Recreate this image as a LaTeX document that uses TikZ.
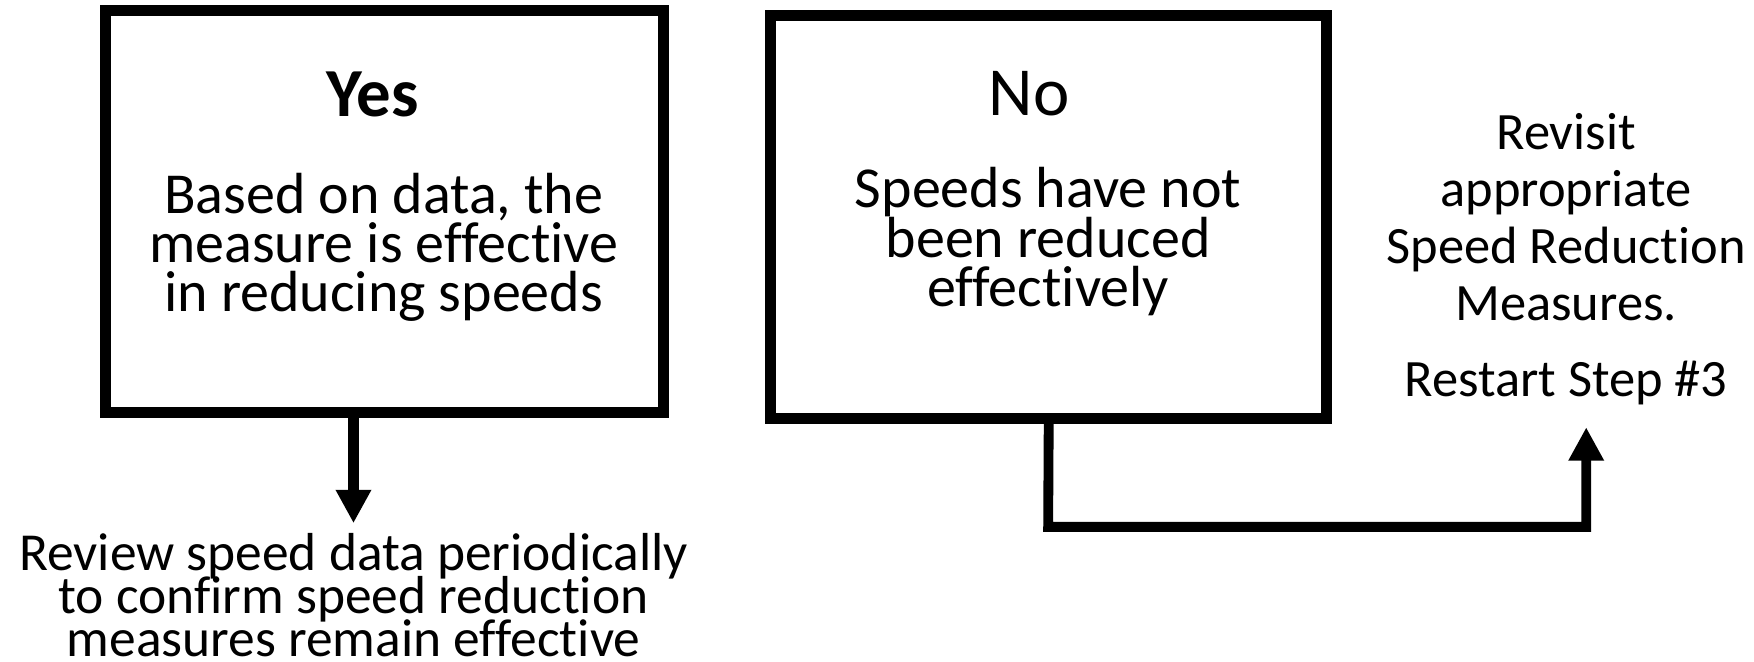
\documentclass[tikz,border=0pt]{standalone}
\usepackage{fontspec}
\setmainfont[Ligatures={NoCommon}]{Carlito}
\usetikzlibrary{arrows.meta, positioning, calc}
\newcommand{\tightlines}{\setlength{\lineskiplimit}{-50pt}}

\begin{document}
\begin{tikzpicture}[
    x=0.2mm, y=-0.2mm,
    box/.style={rectangle, draw, line width=5.7pt, minimum width=99.8mm, minimum height=71.8mm},
    title/.style={font=\fontsize{35}{40}\selectfont},
    body/.style={align=center, inner sep=0pt, font={\fontsize{29.5}{25}\selectfont\tightlines}},
    side/.style={align=center, inner sep=0pt, font={\fontsize{26.7}{29}\selectfont\tightlines}},
    note/.style={align=center, inner sep=2pt, font={\fontsize{27.2}{22}\selectfont\tightlines}},
    arrow/.style={-{Triangle[length=17pt, width=17pt]}, line width=5.5pt},
]
\useasboundingbox (0,0) rectangle (1568,591);

% the two outcome boxes
\node[box] (yesbox) at (343.5, 189) {};
\node[box, minimum width=99.4mm, minimum height=72mm] (nobox) at (937.5, 194) {};

\node[title, font=\fontsize{35}{40}\selectfont\bfseries] (yestitle) at (333, 84) {Yes};
\node[body] (yestext) at (343, 221)
    {Based on data, the\\measure is effective\\in reducing speeds};

\node[title] (notitle) at (920, 84) {No};
\node[body] (notext) at (937, 216)
    {Speeds have not\\been reduced\\effectively};

% what happens next
\node[note] (review) at (316, 532)
    {Review speed data periodically\\to confirm speed reduction\\measures remain effective};
\node[side] (revisit) at (1400, 194)
    {Revisit\\appropriate\\Speed Reduction\\Measures.};
\node[side] (restart) at (1400, 342) {Restart Step \#3};

\coordinate (turn) at (937, 471);

\draw[arrow] (yesbox.south -| review.north) -- ([yshift=1mm]review.north);
\draw[arrow, line width=5pt] (nobox.south) -- (turn) -|
    ([xshift=3.6mm, yshift=-4mm]restart.south);

\end{tikzpicture}
\end{document}
